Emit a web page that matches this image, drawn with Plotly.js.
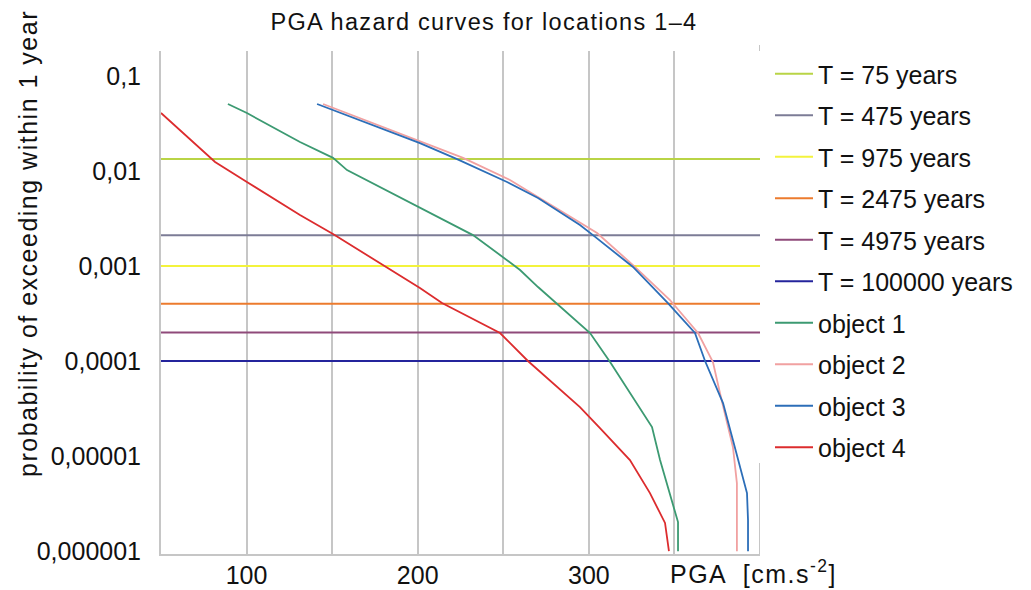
<!DOCTYPE html>
<html>
<head>
<meta charset="utf-8">
<script src="https://cdn.plot.ly/plotly-3.0.1.min.js"></script>
<style>
  html, body { margin: 0; padding: 0; background: #fff; }
  #chart { width: 1031px; height: 590px; }
  .gtitle { letter-spacing: 1.3px; }
  .annotation-text { letter-spacing: 1.5px; }
</style>
</head>
<body>
<div id="chart"></div>
<script>
// Return-period reference levels (annual probability of exceedance)
const periodNames = ['T = 75 years', 'T = 475 years', 'T = 975 years', 'T = 2475 years', 'T = 4975 years', 'T = 100000 years'];
const periodProb = [0.0133, 0.0021, 0.001, 0.0004, 0.0002, 0.0001];
const periodColors = ['#b9d446', '#7c7c96', '#f3f33c', '#ec7b2e', '#8f4a7a', '#24249c'];

// Hazard curves: PGA [cm.s-2] vs. annual probability of exceedance
const objectNames = ['object 1', 'object 2', 'object 3', 'object 4'];
const objectColors = ['#3c9a72', '#f1a1a1', '#2c6eb8', '#dc2c2e'];

const pgaObject1 = [89.1, 100.2, 131.2, 150.5, 158.7, 201.3, 232.3, 252.2, 259.8, 270.3, 279.0, 300.7, 312.4, 325.8, 336.9, 341.6, 347.4, 352.1, 352.1];
const probObject1 = [0.0505, 0.0406, 0.0201, 0.0137, 0.0102, 0.00406, 0.00211, 0.00115, 0.000906, 0.0006, 0.000438, 0.000197, 0.0000975, 0.0000418, 0.0000202, 0.00000908, 0.00000408, 0.00000202, 0.000001];

const pgaObject2 = [144.7, 201.3, 226.5, 253.9, 294.8, 304.8, 325.8, 347.4, 363.8, 372.5, 376.6, 384.2, 386.5, 386.5];
const probObject2 = [0.0505, 0.0206, 0.0137, 0.00802, 0.0029, 0.00222, 0.00102, 0.000438, 0.000197, 0.0000975, 0.000046, 0.0000124, 0.0000052, 0.000001];

const pgaObject3 = [141.2, 201.3, 223.0, 252.2, 270.3, 294.8, 302.4, 325.8, 346.2, 362.0, 367.9, 378.4, 384.2, 392.4, 393.0, 393.0];
const probObject3 = [0.0505, 0.0196, 0.0133, 0.00764, 0.00519, 0.0027, 0.00211, 0.000975, 0.000407, 0.000197, 0.0001, 0.0000361, 0.0000147, 0.00000408, 0.00000212, 0.000001];

const pgaObject4 = [50.0, 81.6, 100.2, 131.2, 150.5, 182.1, 201.3, 214.2, 248.1, 264.4, 279.0, 294.8, 306.5, 324.0, 335.7, 344.5, 346.8];
const probObject4 = [0.0406, 0.0124, 0.00764, 0.00344, 0.00217, 0.000951, 0.000585, 0.000407, 0.000197, 0.0001, 0.0000586, 0.0000328, 0.0000197, 0.00000908, 0.00000408, 0.00000198, 0.000001];

// Axis ticks: labelled every 100, gridlines every 50
const xTickVals = [100, 200, 300];
const xTickText = ['100', '200', '300'];
const xMinorGrid = [150, 250, 350];
const yTickVals = [0.000001, 0.00001, 0.0001, 0.001, 0.01, 0.1];
const yTickText = ['0,000001', '0,00001', '0,0001', '0,001', '0,01', '0,1'];

const xMin = 50, xMax = 400;

const FONT = '"Liberation Sans", Arial, sans-serif';
const INK = '#111111';
const GRID = '#c6c6c6';

const traces = [];
periodNames.forEach((name, i) => {
  traces.push({
    type: 'scatter', mode: 'lines', name: name,
    x: [xMin, xMax], y: [periodProb[i], periodProb[i]],
    line: { color: periodColors[i], width: 2 },
    legendgroup: 'g' + i
  });
});
const objX = [pgaObject1, pgaObject2, pgaObject3, pgaObject4];
const objY = [probObject1, probObject2, probObject3, probObject4];
objectNames.forEach((name, i) => {
  traces.push({
    type: 'scatter', mode: 'lines', name: name,
    x: objX[i], y: objY[i],
    line: { color: objectColors[i], width: 1.8 },
    legendgroup: 'o' + i
  });
});

const layout = {
  width: 1031, height: 590,
  margin: { l: 161, r: 271, t: 51, b: 36 },
  paper_bgcolor: '#ffffff', plot_bgcolor: '#ffffff',
  font: { family: FONT, size: 25, color: INK },
  title: {
    text: 'PGA hazard curves for locations 1–4',
    font: { family: FONT, size: 23.5, color: INK },
    x: 484 / 1031, xref: 'container', xanchor: 'center',
    y: 1 - 22 / 590, yref: 'container', yanchor: 'middle'
  },
  xaxis: {
    range: [xMin, xMax], type: 'linear',
    tickmode: 'array', tickvals: xTickVals, ticktext: xTickText,
    showgrid: true, gridcolor: GRID, gridwidth: 2,
    minor: { tickmode: 'array', tickvals: xMinorGrid, showgrid: true, gridcolor: GRID, gridwidth: 2, ticks: '' },
    showline: true, linecolor: GRID, linewidth: 2,
    zeroline: false, ticks: '', ticklabelstandoff: -2,
    tickfont: { family: FONT, size: 25, color: INK }
  },
  yaxis: {
    type: 'log', range: [-6.03, -0.739],
    tickmode: 'array', tickvals: yTickVals, ticktext: yTickText,
    showgrid: false,
    showline: true, linecolor: GRID, linewidth: 2,
    zeroline: false, ticks: '', ticklabelstandoff: 13,
    tickfont: { family: FONT, size: 25, color: INK }
  },
  legend: {
    x: (770 - 161) / 599, xanchor: 'left',
    y: 1, yanchor: 'top', maxheight: 560,
    bgcolor: 'rgba(255,255,255,0)', borderwidth: 0,
    font: { family: FONT, size: 25, color: INK },
    traceorder: 'grouped', tracegroupgap: 6, itemwidth: 38
  },
  shapes: [
    // right border, visible only beneath the legend column
    { type: 'line', xref: 'x', yref: 'paper', x0: xMax, x1: xMax, y0: 0, y1: (554 - 463) / 503,
      line: { color: GRID, width: 2 } },
    { type: 'line', xref: 'x', yref: 'paper', x0: xMax, x1: xMax, y0: 1.0, y1: 1.012,
      line: { color: GRID, width: 2 } }
  ],
  annotations: [
    {
      text: 'probability of exceeding within 1 year',
      xref: 'paper', yref: 'paper',
      x: (28 - 161) / 599, y: (554 - 244) / 503,
      xanchor: 'center', yanchor: 'middle', textangle: -90,
      showarrow: false, font: { family: FONT, size: 25, color: INK }
    },
    {
      text: 'PGA  [cm.s<sup>-2</sup>]',
      xref: 'paper', yref: 'paper',
      x: (668 - 161) / 599, y: (554 - 572) / 503,
      xanchor: 'left', yanchor: 'middle',
      showarrow: false, font: { family: FONT, size: 25, color: INK }
    }
  ]
};

Plotly.newPlot('chart', traces, layout, { staticPlot: true, displayModeBar: false });
</script>
</body>
</html>
